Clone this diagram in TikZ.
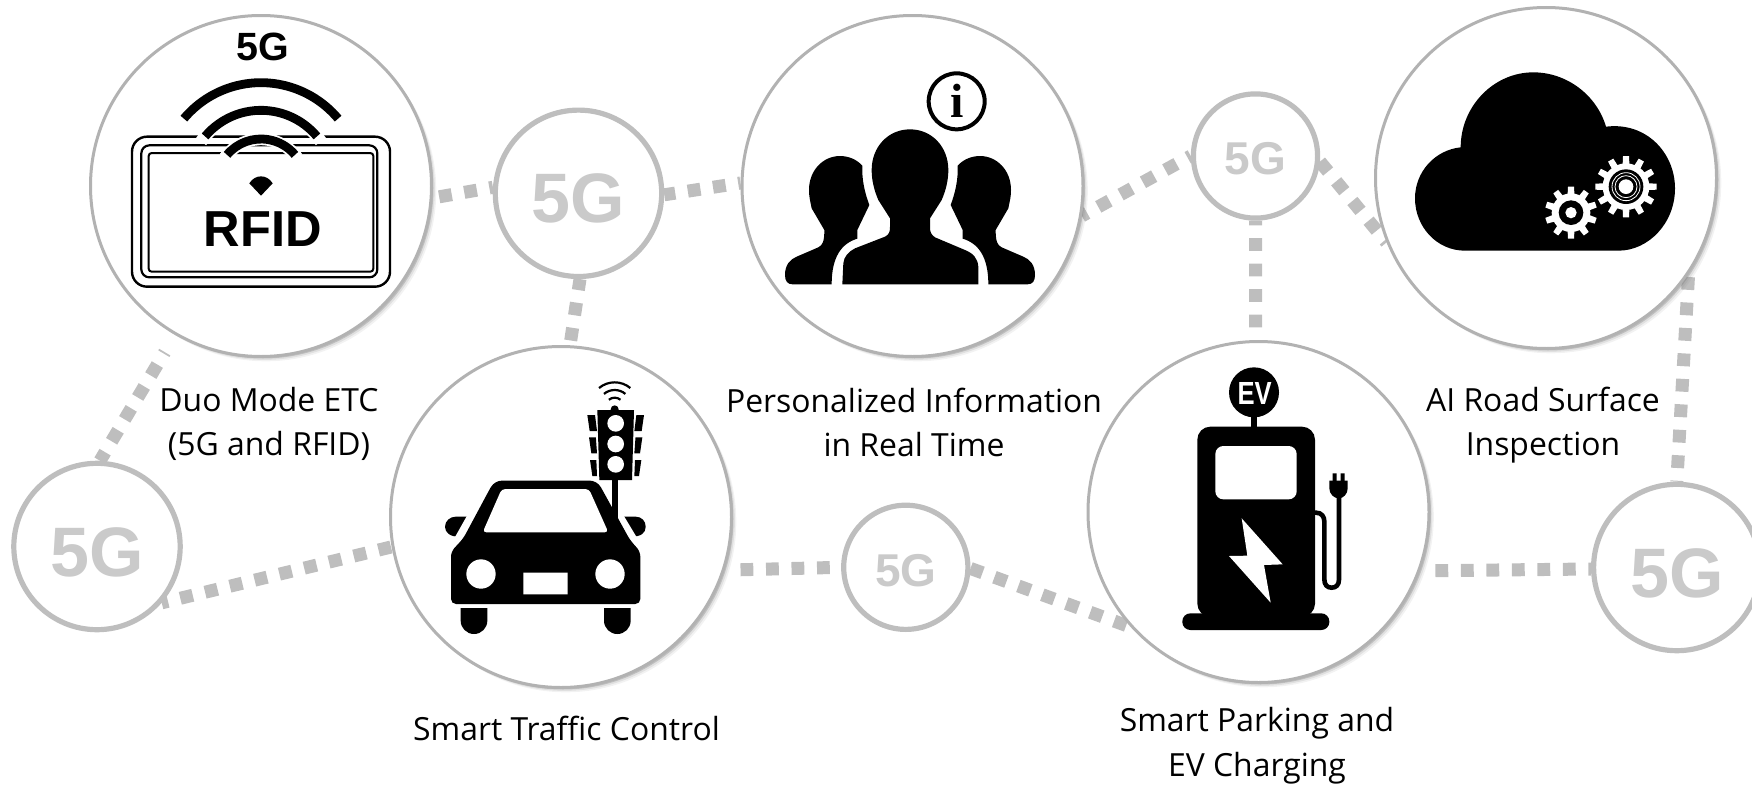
\documentclass[tikz,border=0pt]{standalone}
\usepackage{fontspec}
\setmainfont{Open Sans}
\newfontfamily\arialfont{Liberation Sans}
\newfontfamily\timesfont{Liberation Serif}
\usetikzlibrary{backgrounds}
\usetikzlibrary{shadows}
\definecolor{linkgray}{HTML}{BEBEBE}
\definecolor{fivegray}{HTML}{CACACA}
\definecolor{ringgray}{HTML}{B2B2B2}
\tikzstyle{softshadow}=[drop shadow={shadow xshift=2.4pt,shadow yshift=-2.4pt,opacity=.1},drop shadow={shadow xshift=1.7pt,shadow yshift=-1.7pt,opacity=.16},drop shadow={shadow xshift=1pt,shadow yshift=-1pt,opacity=.35}]
\tikzstyle{service}=[circle,draw=ringgray,fill=white,line width=1.5pt,minimum size=170.5pt,inner sep=0pt,softshadow]
\tikzstyle{fiveg}=[circle,draw=linkgray,fill=white,line width=2.6pt,inner sep=0pt,text=fivegray,font=\arialfont\bfseries\fontsize{35}{36}\selectfont,text height=29.5pt,text depth=0pt,minimum size=83.2pt]
\tikzstyle{fivegsmall}=[fiveg,font=\arialfont\bfseries\fontsize{23}{24}\selectfont,text height=18.8pt,minimum size=62.1pt]
\tikzstyle{link}=[draw=linkgray,line width=6.5pt,dash pattern=on 6.4pt off 6.35pt]
\tikzstyle{caption}=[align=center,inner sep=0pt,font=\fontsize{15.95}{22.3}\selectfont]
\tikzstyle{icon}=[x=.16667pt,y=-.16667pt]
\newcommand\gearicon[5]{%
	\fill[white] (#1,#2) circle (#4);
	\foreach \t in {1,...,#5}
		\fill[white,shift={(#1,#2)},rotate=\t*360/#5] (-13,0) -- (-9,#3) -- (9,#3) -- (13,0) -- cycle;
}
\begin{document}
\begin{tikzpicture}[x=.5pt,y=-.5pt]
	\useasboundingbox (0,0) rectangle (1752,787);
	\node[service] (rfid) at (261,186) {};
	\node[service] (people) at (912.5,186) {};
	\node[service] (cloud) at (1546,178) {};
	\node[service] (car) at (561,517) {};
	\node[service] (ev) at (1258.5,512) {};
	\node[fiveg] (gtop) at (578.5,193.3) {5G};
	\node[fiveg] (gleft) at (97,546.5) {5G};
	\node[fiveg] (gright) at (1676.8,567.5) {5G};
	\node[fivegsmall] (gnorth) at (1255.5,156) {5G};
	\node[fivegsmall] (gsouth) at (905.8,567.3) {5G};
	\begin{scope}[on background layer]
		\draw[link,dash phase=4.6pt] (gtop.176) -- (rfid.-4.5);
		\draw[link,dash phase=.85pt] (gtop.-1.5) -- (people.179);
		\draw[link,dash phase=.85pt] (gtop.-89) -- (car.87.6);
		\draw[link,dash phase=1.4pt,shorten >=10pt] (gleft.88) -- (rfid.-120);
		\draw[link,dash phase=3.2pt] (gleft.-41) -- (car.190.8);
		\draw[link,dash phase=7.1pt,shorten >=7pt] (gsouth.180) -- (car.-18.4);
		\draw[link] (gsouth.-1) -- (ev.222.8);
		\draw[link,dash phase=5.1pt,shorten >=7pt] (gright.181) -- (ev.-20.2);
		\draw[link,dash phase=5.9pt] (gright.90) -- (cloud.-34);
		\draw[link,dash phase=4.6pt] (gnorth.180) -- (people.-10.3);
		\draw[link] (gnorth.-5) -- (cloud.202.7);
		\draw[link,dash phase=4.1pt] (gnorth.-90) -- (ev.91);
	\end{scope}
	\node[caption] (rfidtext) at (269,424) {Duo Mode ETC\\(5G and RFID)};
	\node[caption] (peopletext) at (914,422.5) {Personalized Information\\in Real Time};
	\node[caption] (cloudtext) at (1543,425) {AI Road Surface\\Inspection};
	\node[caption] (cartext) at (566.5,728) {Smart Traffic Control};
	\node[caption] (evtext) at (1257,746) {Smart Parking and\\EV Charging};
	\begin{scope}[shift={(80,0)},icon]
		\draw[line width=1.2pt,rounded corners=7.5pt] (156,410) rectangle (930,860);
		\draw[line width=1.1pt,rounded corners=4pt] (184,436) rectangle (892,832);
		\draw[line width=1pt,rounded corners=1.5pt] (206,459) rectangle (880,815);
		\foreach \r in {133,219}
			\draw[white,line width=6.2pt] (543,550) ++(-145:\r) arc[start angle=-145,end angle=-35,radius=\r];
		\foreach \r in {133,219,302}
			\draw[line width=4.4pt] (543,550) ++(-140:\r) arc[start angle=-140,end angle=-40,radius=\r];
		\fill (508,550) .. controls (525,522) and (561,522) .. (578,550) -- (543,587) -- cycle;
		\node[inner sep=0pt,font=\arialfont\bfseries\fontsize{19.7}{20}\selectfont] (rfidfive) at (548,140) {5G};
		\node[inner sep=0pt,font=\arialfont\bfseries\fontsize{25.3}{26}\selectfont] (rfidname) at (549,686) {RFID};
	\end{scope}
	\begin{scope}[shift={(910,0)},icon]
		\foreach \flip in {1,-1}
			\fill[xscale=\flip] (-235,853) -- (-352,853) .. controls (-368,853) and (-375,843) .. (-375,825) .. controls (-375,795) and (-360,778) .. (-340,770) -- (-275,742) .. controls (-262,735) and (-257,725) .. (-257,690) -- (-295,625) .. controls (-300,600) and (-303,590) .. (-303,570) .. controls (-303,510) and (-260,468) .. (-210,468) .. controls (-185,468) and (-160,478) .. (-143,497) .. controls (-145,540) and (-135,580) .. (-122,615) -- (-158,690) -- (-158,716) .. controls (-205,730) and (-235,770) .. (-235,853) -- cycle;
		\fill (-203,853) -- (-200,790) .. controls (-198,770) and (-185,755) .. (-165,745) -- (-75,710) .. controls (-62,703) and (-60,695) .. (-60,680) -- (-60,655) -- (-95,600) .. controls (-108,570) and (-115,540) .. (-115,510) .. controls (-115,440) and (-65,388) .. (0,388) .. controls (65,388) and (115,440) .. (115,510) .. controls (115,540) and (108,570) .. (95,600) -- (60,655) -- (60,680) .. controls (60,695) and (62,703) .. (75,712) -- (165,750) .. controls (190,760) and (203,775) .. (205,800) -- (205,853) -- cycle;
		\draw[line width=2pt] (140,304) circle (84);
		\node[inner sep=0pt,font=\timesfont\bfseries\fontsize{24}{25}\selectfont] (infosign) at (140,304) {i};
	\end{scope}
	\begin{scope}[shift={(1370,0)},icon]
		\fill (285,752) .. controls (200,752) and (135,680) .. (135,595) .. controls (135,515) and (195,450) .. (272,442) .. controls (272,320) and (370,217) .. (490,217) .. controls (590,217) and (680,285) .. (708,380) .. controls (830,365) and (915,460) .. (915,565) .. controls (915,670) and (835,752) .. (745,752) -- cycle;
		\gearicon{603}{638}{78}{58}{10}
		\fill (603,638) circle (37);
		\fill[white] (603,638) circle (17);
		\gearicon{768}{560}{92}{70}{12}
		\fill (768,560) circle (52);
		\draw[white,line width=.4pt] (768,560) circle (42) (768,560) circle (33);
		\fill[white] (768,560) circle (22);
	\end{scope}
	\begin{scope}[shift={(385,340)},icon]
		\fill (682,420) rectangle (700,545);
		\fill (250,530) -- (212,530) .. controls (195,530) and (180,543) .. (180,560) .. controls (180,578) and (195,590) .. (222,590) -- cycle;
		\fill (715,530) -- (752,530) .. controls (770,530) and (782,543) .. (782,560) .. controls (782,578) and (770,590) .. (738,590) -- cycle;
		\fill[white] (205,600) -- (250,520) -- (262,530) -- (225,600) -- cycle (760,600) -- (712,520) -- (700,530) -- (738,600) -- cycle;
		\fill[rounded corners=2.5pt] (198,635) -- (198,792) -- (766,792) -- (766,635) -- (735,600) -- (655,455) .. controls (640,428) and (625,422) .. (600,422) -- (365,422) .. controls (340,422) and (325,428) .. (310,455) -- (235,595) -- cycle;
		\fill[white,rounded corners=1.8pt] (293,577) -- (350,447) -- (612,447) -- (670,577) -- cycle;
		\fill[white] (288,702) circle (44) (675,702) circle (44) (415,698) rectangle (548,763);
		\fill (227,804) -- (307,804) -- (307,842) arc[start angle=0,end angle=180,radius=40] -- cycle;
		\fill (657,804) -- (737,804) -- (737,842) arc[start angle=0,end angle=180,radius=40] -- cycle;
		\fill (637,210) -- (747,210) -- (741,420) -- (643,420) -- cycle (689,208) circle (12);
		\foreach \y in {250,312,373}
			\fill[white] (692,\y) circle (25);
		\foreach \y/\w in {225/0,292/5,360/8}
			\fill (607+\w,\y) -- (630+\w*.5,\y) -- (636,\y+48) -- (614+\w,\y+48) -- cycle (777-\w,\y) -- (754-\w*.5,\y) -- (748,\y+48) -- (770-\w,\y+48) -- cycle;
		\foreach \r in {27,50,73}
			\draw[line width=1.1pt] (689,200) ++(-130:\r) arc[start angle=-130,end angle=-50,radius=\r];
	\end{scope}
	\begin{scope}[shift={(1080,340)},icon]
		\fill (513,225) rectangle (532,265);
		\fill (522,157) circle (75);
		\node[inner sep=0pt,text=white,xscale=.8,font=\arialfont\bfseries\fontsize{16}{16}\selectfont] (evsign) at (524,159) {EV};
		\fill[rounded corners=6.5pt] (352,830) -- (352,260) -- (705,260) -- (705,830) -- cycle;
		\fill[rounded corners=4pt] (307,820) rectangle (748,870);
		\fill[white,rounded corners=4pt] (406,318) rectangle (650,478);
		\fill[white] (485,535) -- (608,673) -- (552,675) -- (572,788) -- (447,648) -- (502,647) -- cycle;
		\draw[line width=2.3pt] (700,518) -- (708,518) .. controls (725,518) and (733,530) .. (733,545) -- (733,718) .. controls (733,735) and (742,743) .. (755,743) .. controls (768,743) and (777,735) .. (777,718) -- (777,460);
		\fill (748,422) -- (803,422) -- (803,445) .. controls (803,462) and (790,475) .. (776,475) .. controls (762,475) and (748,462) .. (748,445) -- cycle;
		\fill (758,400) rectangle (770,425) (782,400) rectangle (794,425);
	\end{scope}
\end{tikzpicture}
\end{document}
